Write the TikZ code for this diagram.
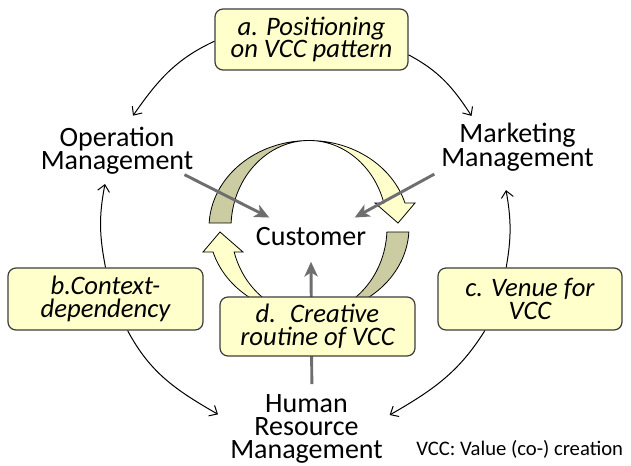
\documentclass[tikz,border=0pt]{standalone}
\usepackage{fontspec}
\setmainfont{Carlito}
\usetikzlibrary{arrows.meta}
\definecolor{boxfill}{RGB}{255,255,204}
\definecolor{banddark}{RGB}{204,204,163}
\definecolor{feedgray}{RGB}{110,110,110}
\definecolor{boxline}{RGB}{60,60,60}

\begin{document}
\begin{tikzpicture}[x=0.75pt,y=0.75pt,
        lbl/.style={align=center,inner sep=0pt,font=\fontsize{21}{17}\selectfont},
        vccbox/.style={draw=boxline,line width=0.9pt,fill=boxfill,rounded corners=6pt,
            align=center,inner sep=0pt,font=\fontsize{20}{17}\selectfont\itshape},
        feed/.style={draw=feedgray,line width=2.2pt,-{Stealth[length=11pt,width=10pt,inset=3pt]}},
        link/.style={line width=0.75pt,-{Straight Barb[length=5pt,width=9pt]}},
        ribbon/.style={draw=black,line width=0.6pt}]
    \useasboundingbox (0,0) rectangle (631,-465);

    % the four parties
    \node[lbl] (opm) at (117,-151) {Operation\\Management};
    \node[lbl] (mkm) at (517.5,-147) {Marketing\\Management};
    \node[lbl,inner sep=7.5pt] (cust) at (311,-237) {Customer};
    \node[lbl] (hrm) at (306.5,-429) {Human\\Resource\\Management};
    \node[anchor=base west,inner sep=0pt,font=\fontsize{15.5}{18}\selectfont] (note) at (416,-455) {VCC: Value (co-) creation};

    % twisted ribbon arrows turning round the customer
    \foreach \turn in {0,180}{
        \begin{scope}[shift={(309,-227.5)},rotate=\turn]
            \filldraw[ribbon,fill=banddark] (177:100 and 87)
                arc[start angle=177,end angle=90,x radius=100,y radius=87]
                arc[start angle=90,end angle=177,x radius=78,y radius=87] -- cycle;
            \filldraw[ribbon,fill=boxfill] (90:100 and 87)
                arc[start angle=90,end angle=16.4,x radius=100,y radius=87]
                -- (106,24.5) -- (89,4.5) -- (66,24.5) -- (16.4:78 and 87)
                arc[start angle=16.4,end angle=90,x radius=78,y radius=87] -- cycle;
        \end{scope}
    }

    % what feeds the customer
    \draw[feed] ([xshift=-6.75pt]opm.south east) -- (cust.155);
    \draw[feed] ([xshift=-5pt,yshift=-2pt]mkm.south west) -- (cust.24);
    \draw[feed] ([xshift=4pt,yshift=8pt]hrm.north) -- ([yshift=-4pt]cust.south);

    % the four mechanisms
    \node[vccbox,minimum width=144.75pt,minimum height=45.75pt] (posa) at (311.5,-39.5) {a. Positioning\\on VCC pattern};
    \node[vccbox,minimum width=146.25pt,minimum height=46.5pt] (bctx) at (105.5,-299) {b.Context-\\dependency};
    \node[vccbox,minimum width=138pt,minimum height=46.5pt] (cven) at (530,-299) {c. Venue for\\VCC};
    \node[vccbox,minimum width=146.25pt,minimum height=44.25pt] (crout) at (317.5,-326.5) {d.~ Creative\\routine of VCC};

    \draw[link] (posa.181) to[out=205,in=55] ([xshift=12pt,yshift=8.75pt]opm.north);
    \draw[link] (posa.-9) to[out=-28,in=123] ([xshift=-34.5pt,yshift=5pt]mkm.north);
    \draw[link] (bctx.north) to[out=101,in=-101] ([xshift=-9pt,yshift=-7pt]opm.south);
    \draw[link] (cven.127) to[out=80,in=-80] ([xshift=-8.6pt,yshift=-14pt]mkm.south);
    \draw[link] (bctx.-55) to[out=-62,in=150] ([xshift=-9pt,yshift=11pt]hrm.west);
    \draw[link] (cven.-145) to[out=-122,in=30] ([xshift=5pt,yshift=10.5pt]hrm.east);
\end{tikzpicture}
\end{document}
